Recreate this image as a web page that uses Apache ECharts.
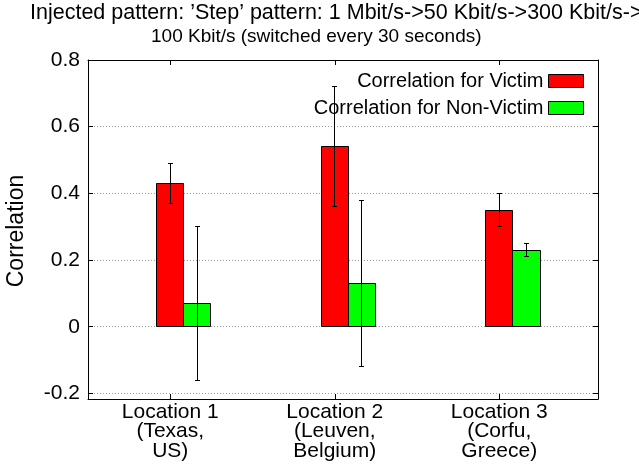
<!DOCTYPE html>
<html>
<head>
<meta charset="utf-8">
<script src="https://cdn.jsdelivr.net/npm/echarts@6/dist/echarts.min.js"></script>
<style>
  html, body { margin: 0; padding: 0; background: #fff; }
  #chart { width: 639px; height: 470px; }
</style>
</head>
<body>
<div id="chart"></div>
<script>
// Correlation per measurement location, with error bars
const categories = ['Location 1\n(Texas,\nUS)', 'Location 2\n(Leuven,\nBelgium)', 'Location 3\n(Corfu,\nGreece)'];
const seriesNames = ['Correlation for Victim', 'Correlation for Non-Victim'];
const victim = [0.43, 0.54, 0.35];
const victimErr = [0.06, 0.18, 0.05];
const nonVictim = [0.07, 0.13, 0.23];
const nonVictimErr = [0.23, 0.25, 0.02];
const yTicks = [-0.2, 0, 0.2, 0.4, 0.6, 0.8];
const xTicks = [1, 2, 3];

const FONT = '"Liberation Sans", Arial, Helvetica, sans-serif';
const BAR_W = 0.165;          // bar width in x units
const X_MIN = 0.5, X_MAX = 3.6;
const Y_MIN = -0.2167, Y_MAX = 0.8;

function crisp(v) { return Math.round(v - 0.5) + 0.5; }

function barRenderer(fill) {
  return function (params, api) {
    const x = api.value(0), v = api.value(1), e = api.value(2);
    const a = api.coord([x - BAR_W / 2, v]);
    const b = api.coord([x + BAR_W / 2, 0]);
    const x0 = crisp(a[0]), x1 = crisp(b[0]);
    const yTop = crisp(Math.min(a[1], b[1])), yBot = crisp(Math.max(a[1], b[1]));
    const hi = api.coord([x, v + e]);
    const lo = api.coord([x, v - e]);
    const cx = crisp(hi[0]);
    const capHalf = 2.5;
    const errStyle = { stroke: '#000', lineWidth: 1 };
    return {
      type: 'group',
      children: [
        { type: 'rect', shape: { x: x0, y: yTop, width: x1 - x0, height: yBot - yTop },
          style: { fill: fill, stroke: '#000', lineWidth: 1 } },
        { type: 'line', shape: { x1: cx, y1: crisp(hi[1]), x2: cx, y2: crisp(lo[1]) }, style: errStyle },
        { type: 'line', shape: { x1: cx - capHalf, y1: crisp(hi[1]), x2: cx + capHalf, y2: crisp(hi[1]) }, style: errStyle },
        { type: 'line', shape: { x1: cx - capHalf, y1: crisp(lo[1]), x2: cx + capHalf, y2: crisp(lo[1]) }, style: errStyle }
      ]
    };
  };
}

const victimData = victim.map((v, i) => [xTicks[i], v, victimErr[i]]);
const nonVictimData = nonVictim.map((v, i) => [xTicks[i] + BAR_W, v, nonVictimErr[i]]);

const axisLine = { show: true, onZero: false, lineStyle: { color: '#000', width: 1 } };
const tickStyle = { show: true, inside: true, length: 5, lineStyle: { color: '#000', width: 1 } };

const chart = echarts.init(document.getElementById('chart'), null, { renderer: 'canvas' });
chart.setOption({
  animation: false,
  backgroundColor: '#fff',
  title: [
    { text: 'Injected pattern: \u2019Step\u2019 pattern: 1 Mbit/s->50 Kbit/s->300 Kbit/s->',
      left: 30, top: 2, padding: 0,
      textStyle: { fontFamily: FONT, fontSize: 21.5, fontWeight: 'normal', color: '#000' } },
    { text: '100 Kbit/s (switched every 30 seconds)',
      left: 151, top: 27, padding: 0,
      textStyle: { fontFamily: FONT, fontSize: 19, fontWeight: 'normal', color: '#000' } }
  ],
  legend: {
    data: seriesNames,
    orient: 'vertical',
    align: 'right',
    right: 55,
    top: 71,
    icon: 'rect',
    itemWidth: 35,
    itemHeight: 13,
    itemGap: 7,
    selectedMode: false,
    padding: 0,
    itemStyle: { borderColor: '#000', borderWidth: 1 },
    textStyle: { fontFamily: FONT, fontSize: 20, color: '#000', lineHeight: 20 }
  },
  grid: { left: 88, right: 41, top: 60, bottom: 71, containLabel: false },
  xAxis: [
    {
      type: 'value', position: 'bottom', min: X_MIN, max: X_MAX,
      axisLine: axisLine,
      axisTick: Object.assign({ customValues: xTicks }, tickStyle),
      axisLabel: {
        customValues: xTicks,
        formatter: v => categories[Math.round(v) - 1],
        fontFamily: FONT, fontSize: 21, lineHeight: 19.5, color: '#000', margin: 3
      },
      splitLine: { show: false }
    },
    {
      type: 'value', position: 'top', min: X_MIN, max: X_MAX,
      axisLine: axisLine,
      axisTick: Object.assign({ customValues: xTicks }, tickStyle),
      axisLabel: { show: false },
      splitLine: { show: false }
    }
  ],
  yAxis: [
    {
      type: 'value', position: 'left', min: Y_MIN, max: Y_MAX,
      axisLine: axisLine,
      axisTick: Object.assign({ customValues: yTicks }, tickStyle),
      axisLabel: {
        customValues: yTicks,
        formatter: v => String(Math.round(v * 10) / 10),
        fontFamily: FONT, fontSize: 21, color: '#000', margin: 8
      },
      splitLine: { show: true, lineStyle: { color: '#999', width: 1, type: [1, 2] } }
    },
    {
      type: 'value', position: 'right', min: Y_MIN, max: Y_MAX,
      axisLine: axisLine,
      axisTick: Object.assign({ customValues: yTicks }, tickStyle),
      axisLabel: { show: false },
      splitLine: { show: false }
    }
  ],
  graphic: [
    { type: 'text', x: 17, y: 231, rotation: Math.PI / 2,
      style: { text: 'Correlation', fontFamily: FONT, fontSize: 23, fill: '#000',
               align: 'center', verticalAlign: 'middle' } }
  ],
  series: [
    { name: seriesNames[0], type: 'custom', xAxisIndex: 0, yAxisIndex: 0,
      itemStyle: { color: '#ff0000' }, encode: { x: 0, y: 1 },
      renderItem: barRenderer('#ff0000'), data: victimData, z: 3 },
    { name: seriesNames[1], type: 'custom', xAxisIndex: 0, yAxisIndex: 0,
      itemStyle: { color: '#00ff00' }, encode: { x: 0, y: 1 },
      renderItem: barRenderer('#00ff00'), data: nonVictimData, z: 3 }
  ]
});
</script>
</body>
</html>
